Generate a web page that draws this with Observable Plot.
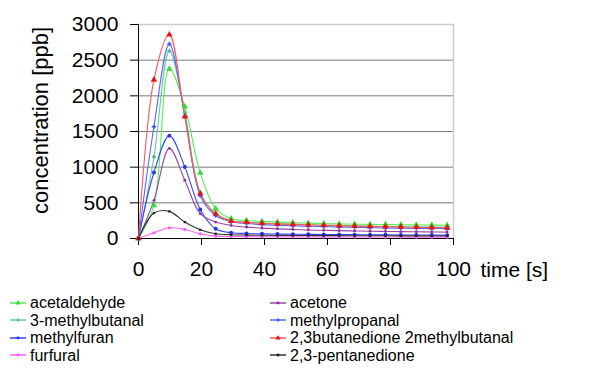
<!DOCTYPE html>
<html>
<head>
<meta charset="utf-8">
<script src="https://cdn.jsdelivr.net/npm/d3@7"></script>
<script src="https://cdn.jsdelivr.net/npm/@observablehq/plot@0.6"></script>
<style>
  body { margin: 0; background: #fff; font-family: Arial, "Liberation Sans", sans-serif; }
  #legend { display: grid; grid-template-columns: 260px 320px; padding-left: 10px; padding-top: 4px; }
  .item { display: flex; align-items: center; font-size: 16px; line-height: 17.5px; height: 17.5px; color: #000; }
  .item svg { margin-right: 4px; }
</style>
</head>
<body>
<div id="chart"></div>
<div id="legend"></div>
<script>
const times = [0, 4.9, 9.8, 14.7, 19.6, 24.5, 29.4, 34.3, 39.2, 44.1, 49, 53.9, 58.8, 63.7, 68.6, 73.5, 78.4, 83.3, 88.2, 93.1, 98];

const acetaldehyde   = [0, 465, 2375, 1849, 920, 418, 277, 253, 240, 230, 222, 215, 210, 205, 200, 198, 195, 192, 190, 188, 185];
const methylbutanal3 = [0, 1145, 2630, 1760, 650, 350, 250, 228, 215, 205, 198, 192, 186, 180, 176, 172, 168, 165, 162, 160, 158];
const methylfuran    = [0, 925, 1441, 1004, 408, 136, 80, 70, 65, 62, 60, 58, 56, 55, 54, 52, 51, 50, 49, 48, 47];
const furfural       = [0, 80, 150, 127, 66, 33, 28, 26, 25, 24, 23, 22, 22, 21, 21, 20, 20, 20, 19, 19, 19];
const acetone        = [0, 535, 1263, 817, 348, 230, 183, 159, 145, 135, 127, 120, 115, 110, 106, 102, 99, 96, 94, 92, 90];
const methylpropanal = [0, 1567, 2727, 1720, 600, 320, 235, 210, 195, 185, 178, 172, 166, 160, 156, 152, 148, 145, 142, 140, 138];
const butanedione    = [0, 2225, 2858, 1708, 629, 347, 244, 228, 214, 205, 198, 192, 186, 180, 175, 170, 166, 162, 158, 154, 150];
const pentanedione   = [0, 357, 380, 230, 122, 66, 52, 48, 45, 43, 42, 41, 40, 40, 39, 38, 38, 37, 37, 36, 36];

const xTicks = [0, 20, 40, 60, 80, 100];
const yTicks = [0, 500, 1000, 1500, 2000, 2500, 3000];
const yGrid = [500, 1000, 1500, 2000, 2500];

const series = [
  {name: "acetaldehyde", values: acetaldehyde, line: "#55ee55", mark: "#33dd33", symbol: "triangle", r: 2.4},
  {name: "3-methylbutanal", values: methylbutanal3, line: "#66c8a0", mark: "#55b890", symbol: "plus", r: 1.5},
  {name: "methylfuran", values: methylfuran, line: "#3344ff", mark: "#2233ee", symbol: "circle", r: 2},
  {name: "furfural", values: furfural, line: "#ff66ff", mark: "#ff55ff", symbol: "circle", r: 1.6},
  {name: "acetone", values: acetone, line: "#9944aa", mark: "#883399", symbol: "circle", r: 1.4},
  {name: "methylpropanal", values: methylpropanal, line: "#5566ff", mark: "#4455ff", symbol: "plus", r: 1.5},
  {name: "2,3butanedione 2methylbutanal", values: butanedione, line: "#ff5555", mark: "#ee1111", symbol: "triangle", r: 2.4},
  {name: "2,3-pentanedione", values: pentanedione, line: "#333333", mark: "#222222", symbol: "square", r: 1.3}
];

const lineMarks = [];
const dotMarks = [];
for (const s of series) {
  const rows = times.map((t, i) => ({t, v: s.values[i]}));
  lineMarks.push(Plot.line(rows, {x: "t", y: "v", stroke: s.line, strokeWidth: 1.1, curve: "catmull-rom"}));
  dotMarks.push(Plot.dot(rows, {x: "t", y: "v", fill: s.mark, stroke: s.symbol === "plus" ? s.mark : "none", symbol: s.symbol, r: s.r}));
}

const chart = Plot.plot({
  width: 600,
  height: 290,
  marginLeft: 138,
  marginRight: 147,
  marginTop: 24,
  marginBottom: 52,
  style: {fontFamily: "Arial, 'Liberation Sans', sans-serif", color: "#000", background: "#fff"},
  x: {domain: [0, 100]},
  y: {domain: [0, 3000]},
  marks: [
    Plot.ruleY(yGrid, {stroke: "#7a7a7a", strokeWidth: 1}),
    Plot.ruleY([3000], {stroke: "#cccccc", strokeWidth: 1.5}),
    Plot.ruleX([100], {stroke: "#cccccc", strokeWidth: 1.5}),
    Plot.axisY({ticks: yTicks, tickFormat: d => String(d), tickSize: 8, tickPadding: 12, fontSize: 21, label: null, stroke: "#000"}),
    Plot.axisX({ticks: xTicks, tickFormat: d => String(d), tickSize: 7, tickPadding: 16, fontSize: 21, label: null, stroke: "#000"}),
    Plot.ruleX([0], {stroke: "#000", strokeWidth: 1}),
    Plot.ruleY([0], {stroke: "#000", strokeWidth: 1}),
    ...lineMarks,
    ...dotMarks,
    Plot.text(["concentration [ppb]"], {frameAnchor: "left", textAnchor: "middle", lineAnchor: "middle", rotate: -90, dx: -98, dy: -11, fontSize: 22, fill: "#000"}),
    Plot.text(["time [s]"], {frameAnchor: "bottom-right", textAnchor: "start", lineAnchor: "middle", dx: 27, dy: 32, fontSize: 21, fill: "#000"})
  ]
});
document.getElementById("chart").appendChild(chart);

// legend: column-major order, 4 rows x 2 columns
const legend = document.getElementById("legend");
const order = [0, 4, 1, 5, 2, 6, 3, 7];
for (const idx of order) {
  const s = series[idx];
  const div = document.createElement("div");
  div.className = "item";
  const svgNS = "http://www.w3.org/2000/svg";
  const svg = document.createElementNS(svgNS, "svg");
  svg.setAttribute("width", "16");
  svg.setAttribute("height", "10");
  const ln = document.createElementNS(svgNS, "line");
  ln.setAttribute("x1", "0"); ln.setAttribute("x2", "16");
  ln.setAttribute("y1", "5"); ln.setAttribute("y2", "5");
  ln.setAttribute("stroke", s.line); ln.setAttribute("stroke-width", "1.5");
  svg.appendChild(ln);
  const sym = d3.symbol().type(
    s.symbol === "triangle" ? d3.symbolTriangle :
    s.symbol === "plus" ? d3.symbolCross :
    s.symbol === "square" ? d3.symbolSquare : d3.symbolCircle
  ).size(s.symbol === "triangle" ? 12 : 7);
  const p = document.createElementNS(svgNS, "path");
  p.setAttribute("d", sym());
  p.setAttribute("transform", "translate(8,5)");
  p.setAttribute("fill", s.mark);
  svg.appendChild(p);
  div.appendChild(svg);
  const span = document.createElement("span");
  span.textContent = s.name;
  div.appendChild(span);
  legend.appendChild(div);
}
</script>
</body>
</html>
